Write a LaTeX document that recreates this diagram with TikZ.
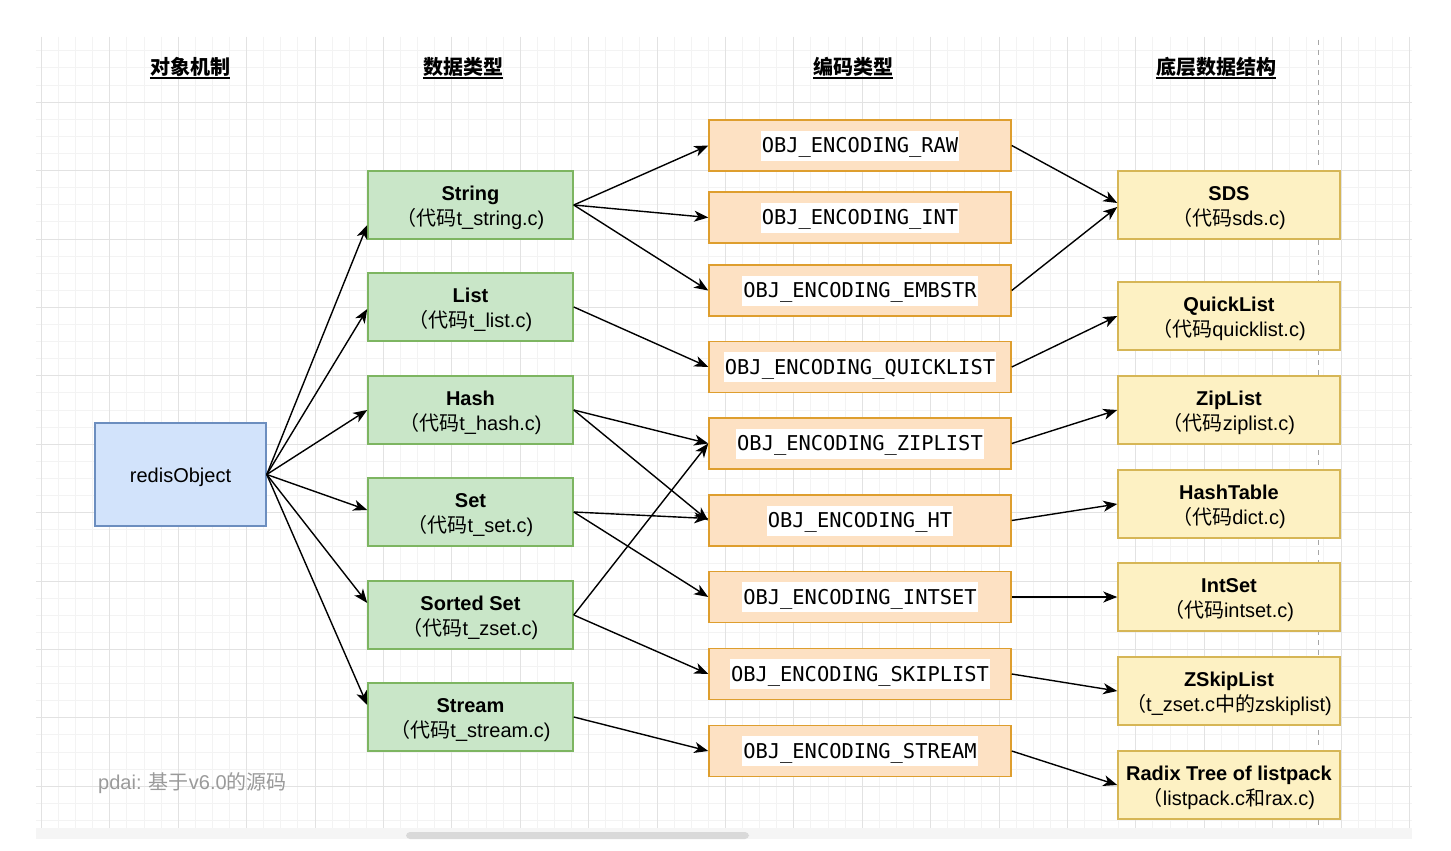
\documentclass[tikz,border=0pt]{standalone}
\usepackage{fontspec}
\setmainfont{Liberation Sans}
\newfontfamily\cjk{Noto Sans CJK SC}
\newfontfamily\monofont{DejaVu Sans Mono}
\usetikzlibrary{arrows.meta}

\definecolor{objfill}{HTML}{D2E3FB}
\definecolor{objline}{HTML}{6C8EBF}
\definecolor{typefill}{HTML}{C9E6C8}
\definecolor{typeline}{HTML}{7DB561}
\definecolor{encfill}{HTML}{FDE1C3}
\definecolor{encline}{HTML}{DE9E2E}
\definecolor{strfill}{HTML}{FDF1C3}
\definecolor{strline}{HTML}{D6B656}
\definecolor{gridminor}{HTML}{F3F3F3}
\definecolor{gridmajor}{HTML}{E2E2E2}
\definecolor{notegray}{HTML}{9A9A9A}

% Chinese words inside Latin text
\newcommand{\zh}[1]{{\cjk #1}}
% full-width opening parenthesis
\newcommand{\lp}{\zh{（}}
% encoding name on a white strip
\newcommand{\encl}[1]{{\setlength{\fboxsep}{0pt}\colorbox{white}{\rule[-8pt]{0pt}{30pt}\hspace{1pt}\monofont\fontsize{20.4}{24}\selectfont #1\hspace{1pt}}}}
% extra room above the first line of a box label
\newcommand{\topgap}{\rule{0pt}{20.5pt}}

\tikzset{
  box/.style={draw, rectangle, line width=1.5pt, align=center, inner sep=0pt,
    font=\fontsize{20}{24.5}\selectfont},
  objbox/.style={box, fill=objfill, draw=objline, minimum width=171pt, minimum height=103pt},
  typebox/.style={box, fill=typefill, draw=typeline, minimum width=205pt, minimum height=68pt},
  encbox/.style={box, fill=encfill, draw=encline, minimum width=302pt, minimum height=51pt},
  structbox/.style={box, fill=strfill, draw=strline, minimum width=222pt, minimum height=68pt},
  head/.style={inner sep=0pt, font=\cjk\bfseries\fontsize{20}{24}\selectfont},
  headline/.style={line width=1.5pt},
  link/.style={-{Stealth[length=14pt,width=11pt,inset=4pt]}, line width=1.4pt},
  minorg/.style={gridminor, line width=1pt},
  majorg/.style={gridmajor, line width=1pt},
}

\begin{document}
\begin{tikzpicture}[x=1pt,y=-1pt]
\useasboundingbox (0,0) rectangle (1451,851);
\fill[white] (0,0) rectangle (1451,851);

% background grid
\foreach \k in {0,...,80} \draw[minorg] ({41.4+17.1*\k},37) -- ({41.4+17.1*\k},828);
\foreach \k in {1,...,46} \draw[minorg] (36,{33.8+17.1*\k}) -- (1412,{33.8+17.1*\k});
\foreach \k in {0,...,20} \draw[majorg] ({41.4+68.4*\k},37) -- ({41.4+68.4*\k},828);
\foreach \k in {1,...,11} \draw[majorg] (36,{33.8+68.4*\k}) -- (1412,{33.8+68.4*\k});

% scroll bar under the canvas
\fill[gridminor!80!white] (36,828) rectangle (1412,839);
\fill[black!15, rounded corners=4pt] (406,832) rectangle (749,839);

% page guide
\draw[black!35, line width=1pt, dash pattern=on 5pt off 5pt] (1318,40) -- (1318,825);

% column headings
\node[head] (h1) at (190,67) {对象机制};
\node[head] (h2) at (463,67) {数据类型};
\node[head] (h3) at (853,67) {编码类型};
\node[head] (h4) at (1216,67) {底层数据结构};
\foreach \h in {h1,h2,h3,h4}
  \draw[headline] ([yshift=-3.5pt]\h.base west) -- ([yshift=-3.5pt]\h.base east);

% object
\node[objbox] (redis) at (180.5,474.5) {\rule{0pt}{20.6pt}redisObject};

% data types
\node[typebox] (string) at (470.5,205) {\topgap\textbf{String}\\\lp\zh{代码}t\_string.c)};
\node[typebox] (list)   at (470.5,307) {\topgap\textbf{List}\\\lp\zh{代码}t\_list.c)};
\node[typebox] (hash)   at (470.5,410) {\topgap\textbf{Hash}\\\lp\zh{代码}t\_hash.c)};
\node[typebox] (set)    at (470.5,512) {\topgap\textbf{Set}\\\lp\zh{代码}t\_set.c)};
\node[typebox] (zset)   at (470.5,615) {\topgap\textbf{Sorted Set}\\\lp\zh{代码}t\_zset.c)};
\node[typebox] (stream) at (470.5,717) {\topgap\textbf{Stream}\\\lp\zh{代码}t\_stream.c)};

% encodings
\node[encbox] (raw)   at (860,145.5) {\encl{OBJ\_ENCODING\_RAW}};
\node[encbox] (int)   at (860,217.5) {\encl{OBJ\_ENCODING\_INT}};
\node[encbox] (emb)   at (860,290.5) {\encl{OBJ\_ENCODING\_EMBSTR}};
\node[encbox] (ql)    at (860,367)   {\encl{OBJ\_ENCODING\_QUICKLIST}};
\node[encbox] (zl)    at (860,443.5) {\encl{OBJ\_ENCODING\_ZIPLIST}};
\node[encbox] (ht)    at (860,520.5) {\encl{OBJ\_ENCODING\_HT}};
\node[encbox] (is)    at (860,597)   {\encl{OBJ\_ENCODING\_INTSET}};
\node[encbox] (sl)    at (860,674)   {\encl{OBJ\_ENCODING\_SKIPLIST}};
\node[encbox] (st)    at (860,751)   {\encl{OBJ\_ENCODING\_STREAM}};

% underlying structures
\node[structbox] (sds)   at (1229,205) {\topgap\textbf{SDS}\\\lp\zh{代码}sds.c)};
\node[structbox] (quick) at (1229,316) {\topgap\textbf{QuickList}\\\lp\zh{代码}quicklist.c)};
\node[structbox] (zip)   at (1229,410) {\topgap\textbf{ZipList}\\\lp\zh{代码}ziplist.c)};
\node[structbox] (dict)  at (1229,504) {\topgap\textbf{HashTable}\\\lp\zh{代码}dict.c)};
\node[structbox] (iset)  at (1229,597) {\topgap\textbf{IntSet}\\\lp\zh{代码}intset.c)};
\node[structbox] (skip)  at (1229,691) {\topgap\textbf{ZSkipList}\\\lp t\_zset.c\zh{中的}zskiplist)};
\node[structbox] (radix) at (1229,785) {\topgap\textbf{Radix Tree of listpack}\\\lp listpack.c\zh{和}rax.c)};

% note
\node[anchor=west, inner sep=0pt, text=notegray, font=\fontsize{20}{24}\selectfont] (note)
  at (98,783) {pdai: \zh{基于}v6.0\zh{的源码}};

% object -> data types
\draw[link] (redis.east) -- ([yshift=-20pt]string.west);
\draw[link] (redis.east) -- ([yshift=-2pt]list.west);
\draw[link] (redis.east) -- (hash.west);
\draw[link] (redis.east) -- ([yshift=2pt]set.west);
\draw[link] (redis.east) -- ([yshift=12pt]zset.west);
\draw[link] (redis.east) -- ([yshift=12pt]stream.west);

% data types -> encodings
\draw[link] (string.east) -- (raw.west);
\draw[link] (string.east) -- (int.west);
\draw[link] (string.east) -- (emb.west);
\draw[link] (list.east) -- (ql.west);
\draw[link] (hash.east) -- (zl.west);
\draw[link] (hash.east) -- (ht.west);
\draw[link] (set.east) -- ([yshift=2pt]ht.west);
\draw[link] (set.east) -- (is.west);
\draw[link] (zset.east) -- (zl.west);
\draw[link] (zset.east) -- (sl.west);
\draw[link] (stream.east) -- (st.west);

% encodings -> structures
\draw[link] (raw.east) -- ([yshift=2pt]sds.west);
\draw[link] (emb.east) -- ([yshift=-2pt]sds.west);
\draw[link] (ql.east) -- (quick.west);
\draw[link] (zl.east) -- (zip.west);
\draw[link] (ht.east) -- (dict.west);
\draw[link] (is.east) -- (iset.west);
\draw[link] (sl.east) -- (skip.west);
\draw[link] (st.east) -- (radix.west);
\end{tikzpicture}
\end{document}
